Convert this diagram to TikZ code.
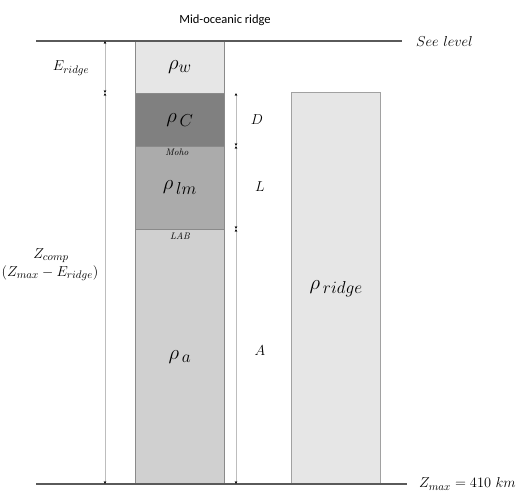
\documentclass[tikz,border=0pt]{standalone}
\usepackage{fontspec}
\newfontfamily\sansf{Carlito}
\usetikzlibrary{arrows.meta}
\DeclareMathSizes{14}{14}{10.5}{8}
\DeclareMathSizes{22}{22}{17}{13}
\definecolor{wat}{HTML}{E6E6E6}
\definecolor{cru}{HTML}{808080}
\definecolor{lmn}{HTML}{ABABAB}
\definecolor{ast}{HTML}{D0D0D0}
\definecolor{edge}{HTML}{8A8A8A}
\definecolor{lvl}{HTML}{5A5A5A}
\definecolor{dimc}{HTML}{BDBDBD}
\tikzset{
  layer/.style={draw=edge, line width=0.8pt, anchor=north west, minimum width=89pt, inner sep=0pt, font=\fontsize{22}{24}\selectfont},
  lvlline/.style={draw=lvl, line width=1.4pt},
  dimline/.style={draw=dimc, line width=0.7pt, {Stealth[length=3pt,width=2.6pt,black]}-{Stealth[length=3pt,width=2.6pt,black]}},
  lbl/.style={font=\fontsize{14}{16}\selectfont, inner sep=0pt},
  tiny/.style={font=\fontsize{9.5}{10}\selectfont\itshape, inner sep=0pt}
}
\begin{document}
\begin{tikzpicture}[x=1pt,y=-1pt]
\useasboundingbox (0,0) rectangle (520,493);
% layers
\node[layer, fill=wat, minimum height=52pt] (water) at (135,41) {$\rho_w$};
\node[layer, fill=cru, minimum height=53pt] (crust) at (135,93) {$\rho_{\,C}$};
\node[layer, fill=lmn, minimum height=83pt] (lman) at (135,146) {$\rho_{\,lm}$};
\node[layer, fill=ast, minimum height=255pt] (asth) at (135,229) {$\rho_{\,a}$};
\node[layer, fill=wat, minimum height=392pt, draw=edge!80, line width=1.3pt] (ridge) at (291,92) {$\rho_{\,ridge}$};
% sea level and bottom
\coordinate (sl0) at (36,41);
\coordinate (sl1) at (402,41);
\coordinate (bt0) at (36,484);
\coordinate (bt1) at (407,484);
\draw[lvlline] (sl0) -- (sl1);
\draw[lvlline] (bt0) -- (bt1);
\node[lbl, anchor=west] (sea) at (416,41) {$See\ level$};
\node[lbl, anchor=west] (zmax) at (419,484) {$Z_{max}=410\ km$};
\node[font=\sansf\fontsize{12.5}{14}\selectfont] (title) at (225,20) {Mid-oceanic ridge};
% interface labels
\node[tiny] (moho) at (177,152) {Moho};
\node[tiny] (lab) at (180,236) {LAB};
% left dimensions
\coordinate (l0) at (105,41);
\coordinate (l1) at (105,93);
\coordinate (l2) at (105,484);
\draw[dimline] (l0) -- (l1);
\draw[dimline] (l1) -- (l2);
\node[lbl] (er) at (71,68) {$E_{ridge}$};
\node[lbl] (zc) at (51,256) {$Z_{comp}$};
\node[lbl] (zc2) at (50,273) {$(Z_{max}-E_{ridge})$};
% right dimensions
\coordinate (r0) at (236,93);
\coordinate (r1) at (236,146);
\coordinate (r2) at (236,229);
\coordinate (r3) at (236,484);
\draw[dimline] (r0) -- (r1);
\draw[dimline] (r1) -- (r2);
\draw[dimline] (r2) -- (r3);
\node[lbl] (d) at (257,120) {$D$};
\node[lbl] (l) at (260,187) {$L$};
\node[lbl] (a) at (260,351) {$A$};
\end{tikzpicture}
\end{document}
